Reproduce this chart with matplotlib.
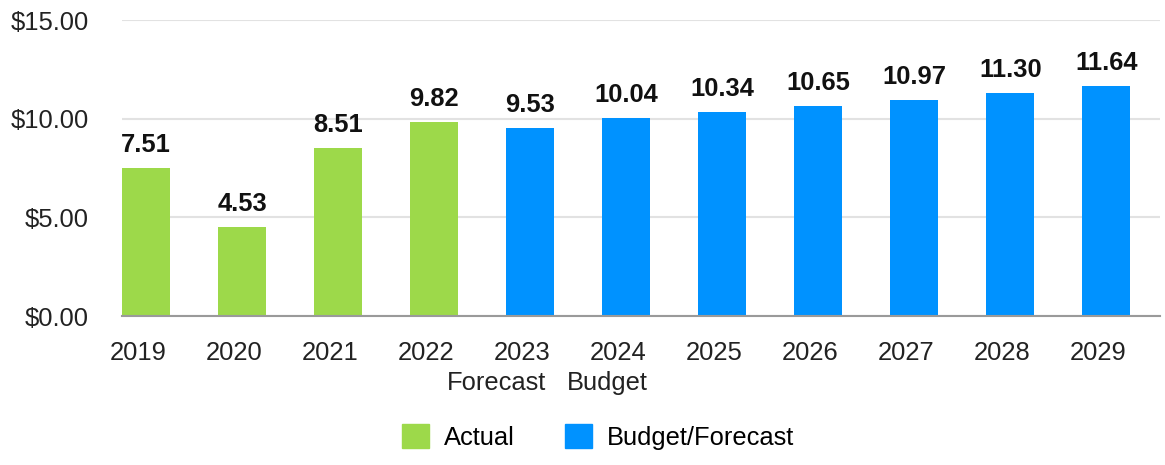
import matplotlib
matplotlib.use("Agg")
import matplotlib.pyplot as plt
import matplotlib.transforms as mtransforms
from matplotlib.patches import Patch

years = ["2019", "2020", "2021", "2022", "2023", "2024", "2025", "2026", "2027", "2028", "2029"]
values = [7.51, 4.53, 8.51, 9.82, 9.53, 10.04, 10.34, 10.65, 10.97, 11.30, 11.64]
kinds = ["Actual"] * 4 + ["Budget/Forecast"] * 7
extra_labels = {4: "Forecast", 5: "Budget"}
yticks = [0, 5, 10, 15]

GREEN = "#9dd94a"
BLUE = "#0092ff"
colors = [GREEN if k == "Actual" else BLUE for k in kinds]

plt.rcParams["font.family"] = ["Liberation Sans", "DejaVu Sans"]
FS = 18.4

fig = plt.figure(figsize=(11.65, 4.65), dpi=100)
ax = fig.add_axes([122 / 1165, (465 - 316) / 465, (1160 - 122) / 1165, (316 - 20) / 465])

x = list(range(len(years)))
bars = ax.bar(x, values, width=0.5, color=colors, zorder=3)

for xi, v in zip(x, values):
    ax.annotate(f"{v:.2f}", (xi, v), xytext=(0, 11), textcoords="offset pixels",
                ha="center", va="bottom", fontsize=FS, fontweight="bold", color="#111111")

ax.set_ylim(0, 15)
ax.set_xlim(-0.25, 10.56)
ax.set_yticks(yticks)
ax.set_yticklabels([f"${t:.2f}" for t in yticks], fontsize=FS, color="#222222")
ax.set_xticks(x)
ax.set_xticklabels(years, fontsize=FS, color="#222222")
ax.tick_params(axis="y", length=0, pad=24)
ax.tick_params(axis="x", length=0, pad=18)

offset = mtransforms.ScaledTranslation(-8 / 100, 0, fig.dpi_scale_trans)
for lbl in ax.get_xticklabels():
    lbl.set_transform(lbl.get_transform() + offset)

trans = mtransforms.blended_transform_factory(ax.transData, ax.transAxes)
shifts = {4: -34, 5: -19}
for i, txt in extra_labels.items():
    t = ax.text(i, -0.185, txt, transform=trans, ha="center", va="top", fontsize=FS, color="#222222")
    t.set_transform(trans + mtransforms.ScaledTranslation(shifts[i] / 100, 0, fig.dpi_scale_trans))

for s in ["top", "right", "left"]:
    ax.spines[s].set_visible(False)
ax.spines["bottom"].set_color("#9a9a9a")
ax.spines["bottom"].set_linewidth(1.5)
ax.spines["bottom"].set_zorder(4)
ax.yaxis.grid(True, color="#e2e2e2", linewidth=1.5, zorder=0)
ax.set_axisbelow(True)

handles = [Patch(color=GREEN, label="Actual"), Patch(color=BLUE, label="Budget/Forecast")]
fig.legend(handles=handles, loc="center", bbox_to_anchor=(598 / 1165, 1 - 437 / 465), ncol=2,
           frameon=False, fontsize=FS, handlelength=1.05, handleheight=1.05,
           handletextpad=0.6, columnspacing=1.95)

fig.savefig("out.png", dpi=100)
